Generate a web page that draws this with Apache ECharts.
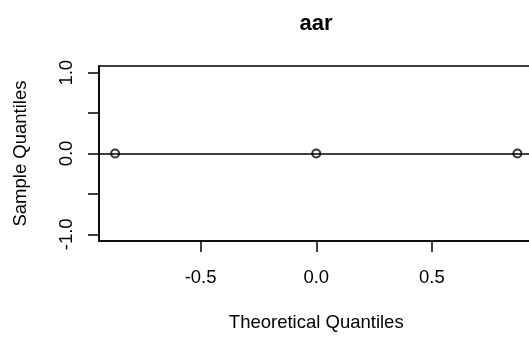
<!DOCTYPE html>
<html>
<head>
<meta charset="utf-8">
<script src="https://cdn.jsdelivr.net/npm/echarts@6/dist/echarts.min.js"></script>
<style>
  html, body { margin: 0; padding: 0; background: #fff; }
  #chart { width: 529px; height: 338px; }
</style>
</head>
<body>
<div id="chart"></div>
<script>
// normal QQ plot of "aar" (3 values, all zero)
const theoreticalQ = [-0.8694, 0, 0.8694]
const sampleQ = [0, 0, 0]
const qqIntercept = 0
const xTicks = [-0.5, 0, 0.5]
const yTicks = [-1, -0.5, 0, 0.5, 1]
const yLabels = [-1, 0, 1]

const font = 'Liberation Sans, Arial, sans-serif'
const chart = echarts.init(document.getElementById('chart'))

chart.setOption({
  animation: false,
  backgroundColor: '#fff',
  title: {
    text: 'aar',
    left: 316,
    top: 13,
    padding: 0,
    textAlign: 'center',
    textStyle: {fontFamily: font, fontSize: 22, fontWeight: 'bold', color: '#000'},
  },
  grid: {
    left: 99,
    top: 66,
    width: 434.5,
    height: 175,
    show: true,
    borderColor: '#000',
    borderWidth: 1.5,
    outerBoundsMode: 'none',
  },
  xAxis: {
    type: 'value',
    min: -0.939,
    max: 0.939,
    name: 'Theoretical Quantiles',
    nameLocation: 'middle',
    nameGap: 72,
    nameTextStyle: {fontFamily: font, fontSize: 18.5, color: '#000'},
    axisLine: {show: true, onZero: false, lineStyle: {color: '#000', width: 1.5}},
    axisTick: {show: true, length: 11, customValues: xTicks, lineStyle: {color: '#000', width: 1.5}},
    axisLabel: {
      margin: 27,
      customValues: xTicks,
      fontFamily: font, fontSize: 18.5, color: '#000',
      formatter: v => v.toFixed(1),
    },
    splitLine: {show: false},
  },
  yAxis: {
    type: 'value',
    min: -1.083,
    max: 1.083,
    name: 'Sample Quantiles',
    nameLocation: 'middle',
    nameGap: 69,
    nameTextStyle: {fontFamily: font, fontSize: 18.5, color: '#000'},
    axisLine: {show: true, onZero: false, lineStyle: {color: '#000', width: 1.5}},
    axisTick: {show: true, length: 11, customValues: yTicks, lineStyle: {color: '#000', width: 1.5}},
    axisLabel: {
      margin: 23,
      rotate: 90,
      customValues: yLabels,
      fontFamily: font, fontSize: 18.5, color: '#000',
      formatter: v => v.toFixed(1),
    },
    splitLine: {show: false},
  },
  series: [
    {
      type: 'scatter',
      data: theoreticalQ.map((x, i) => [x, sampleQ[i]]),
      symbol: 'circle',
      symbolSize: 8,
      itemStyle: {color: 'rgba(0,0,0,0)', borderColor: '#000', borderWidth: 2},
      z: 3,
      markLine: {
        silent: true,
        symbol: 'none',
        label: {show: false},
        lineStyle: {color: '#000', width: 1.5, type: 'solid'},
        data: [{yAxis: qqIntercept}],
      },
    },
  ],
})
</script>
</body>
</html>
